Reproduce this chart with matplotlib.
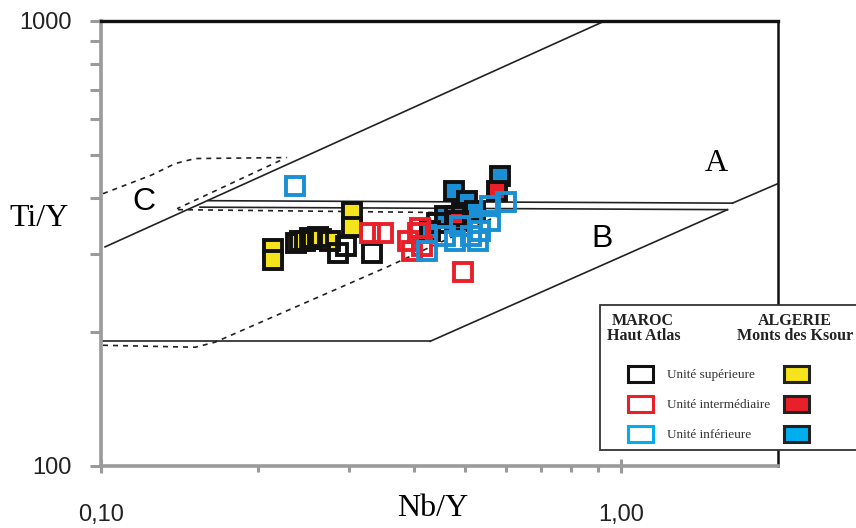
import numpy as np
import matplotlib.pyplot as plt
from matplotlib.patches import Rectangle

# Algerie (Monts des Ksour), filled squares
alg_sup_x = [0.214, 0.214, 0.237, 0.247, 0.256, 0.265, 0.275, 0.303, 0.303]
alg_sup_y = [307, 290, 316, 320, 324, 324, 320, 372, 345]
alg_int_x = [0.578, 0.486]
alg_int_y = [415, 355]
alg_inf_x = [0.477, 0.504, 0.585, 0.459, 0.495, 0.524, 0.429]
alg_inf_y = [415, 394, 449, 365, 370, 374, 337]

# Maroc (Haut Atlas), open squares
mar_sup_x = [0.241, 0.252, 0.261, 0.286, 0.296, 0.332, 0.443, 0.480]
mar_sup_y = [320, 325, 327, 301, 312, 301, 352, 365]
mar_int_x = [0.329, 0.349, 0.389, 0.407, 0.396, 0.414, 0.497, 0.411]
mar_int_y = [334, 334, 320, 334, 304, 312, 272, 343]
mar_inf_x = [0.236, 0.424, 0.459, 0.490, 0.513, 0.536, 0.560, 0.601, 0.531, 0.480, 0.560]
mar_inf_y = [426, 304, 329, 346, 329, 337, 355, 392, 320, 320, 384]

# field boundaries (Nb/Y, Ti/Y)
solid_lines = [
    ([0.1018, 0.9193], [310.5, 993]),
    ([0.1606, 1.635], [394.3, 389.3]),
    ([0.1550, 1.599], [381.3, 376.4]),
    ([1.635, 2.0], [389.3, 430.7]),
    ([1.599, 0.4293], [376.4, 190.6]),
    ([0.1009, 0.4293], [190.6, 190.6]),
]
dashed_lines = [
    ([0.1009, 0.1250, 0.1388, 0.1517, 0.2279], [408.9, 450, 477.7, 490.3, 492.8]),
    ([0.2209, 0.1400], [485.2, 378.3]),
    ([0.1406, 0.585], [376.4, 369.6]),
    ([0.1009, 0.1517, 0.1657, 0.3548, 0.585], [186.7, 184.8, 189.7, 279.9, 366.7]),
]

YELLOW = '#f5e31c'
RED = '#e8202a'
BLUE = '#1a8fd3'
CYAN = '#00aeef'

fig = plt.figure(figsize=(8.56, 5.28), dpi=100)
ax = fig.add_axes([101/856, 1 - 466/528, 677/856, 445.3/528])
ax.set_xscale('log')
ax.set_yscale('log')
ax.set_xlim(0.1, 2.0)
ax.set_ylim(100, 1000)

for xs, ys in solid_lines:
    ax.plot(xs, ys, color='#222222', lw=1.2, zorder=2)
for xs, ys in dashed_lines:
    ax.plot(xs, ys, color='#222222', lw=1.2, ls=(0, (3, 3)), zorder=2)

ms, mew = 13.5, 2.8
ax.plot(alg_sup_x, alg_sup_y, 's', ms=ms, mfc=YELLOW, mec='#111111', mew=mew, zorder=3)
ax.plot(alg_inf_x, alg_inf_y, 's', ms=ms, mfc=BLUE, mec='#111111', mew=mew, zorder=3)
ax.plot(alg_int_x, alg_int_y, 's', ms=ms, mfc=RED, mec='#111111', mew=mew, zorder=3)
ax.plot(mar_sup_x, mar_sup_y, 's', ms=ms, mfc='none', mec='#111111', mew=mew, zorder=4)
ax.plot(mar_int_x, mar_int_y, 's', ms=ms, mfc='none', mec=RED, mew=mew, zorder=4)
ax.plot(mar_inf_x, mar_inf_y, 's', ms=ms, mfc='none', mec=BLUE, mew=mew, zorder=4)

ax.text(1.52, 478, 'A', fontsize=23, family='Liberation Serif', ha='center', va='center')
ax.text(0.92, 323, 'B', fontsize=23, family='Liberation Sans', ha='center', va='center')
ax.text(0.1207, 392, 'C', fontsize=23, family='Liberation Sans', ha='center', va='center')

# axes frame
ax.spines['left'].set_color('#9a9a9a')
ax.spines['bottom'].set_color('#9a9a9a')
ax.spines['left'].set_linewidth(2.6)
ax.spines['bottom'].set_linewidth(2.6)
ax.spines['top'].set_color('#111111')
ax.spines['right'].set_color('#111111')
ax.spines['top'].set_linewidth(2.4)
ax.spines['right'].set_linewidth(1.8)

ax.set_xticks([0.1, 1.0], labels=['0,10', '1,00'])
ax.set_xticks([0.2, 0.3, 0.4, 0.5, 0.6, 0.7, 0.8, 0.9], minor=True)
ax.set_xticklabels([], minor=True)
ax.set_yticks([100, 1000], labels=['100', '1000'])
ax.set_yticks([200, 300, 400, 500, 600, 700, 800, 900], minor=True)
ax.set_yticklabels([], minor=True)
ax.tick_params(axis='y', which='both', direction='out', length=8, width=2.2,
               color='#9a9a9a', labelsize=17, pad=13)
ax.tick_params(axis='x', which='minor', direction='out', length=4, width=2.2, color='#9a9a9a')
ax.tick_params(axis='x', which='major', direction='inout', length=10, width=2.2,
               color='#9a9a9a', labelsize=17, pad=22)
for lab in ax.get_xticklabels() + ax.get_yticklabels():
    lab.set_family('Liberation Sans')
    lab.set_color('#222222')

fig.text(39/856, 1 - 219/528, 'Ti/Y', fontsize=23, family='Liberation Serif',
         ha='center', va='center')
fig.text(433/856, 1 - 508/528, 'Nb/Y', fontsize=23, family='Liberation Serif',
         ha='center', va='center')

# legend box
def fx(px):
    return px / 856

def fy(py):
    return 1 - py / 528

fig.patches.append(Rectangle((fx(600), fy(450)), fx(270), 145/528, transform=fig.transFigure,
                             facecolor='white', edgecolor='#333333', lw=1.3, zorder=10))
hdr = dict(fontsize=11.5, family='Liberation Serif', fontweight='bold',
           va='center', zorder=11, color='#222222')
fig.text(fx(643), fy(321), 'MAROC', ha='center', **hdr)
fig.text(fx(644), fy(336), 'Haut Atlas', ha='center', **hdr)
fig.text(fx(795), fy(321), 'ALGERIE', ha='center', **hdr)
fig.text(fx(853), fy(336), 'Monts des Ksour', ha='right', **hdr)

entries = [('Unité supérieure', '#111111', YELLOW),
           ('Unité intermédiaire', RED, RED),
           ('Unité inférieure', CYAN, CYAN)]
for i, (name, ec, fc) in enumerate(entries):
    yc = 374 + 30 * i
    fig.patches.append(Rectangle((fx(628), fy(yc + 8)), 25/856, 16/528, transform=fig.transFigure,
                                 facecolor='white', edgecolor=ec, lw=2.2, zorder=11))
    fig.patches.append(Rectangle((fx(784), fy(yc + 8)), 25/856, 16/528, transform=fig.transFigure,
                                 facecolor=fc, edgecolor='#222222', lw=2.2, zorder=11))
    fig.text(fx(667), fy(yc + 1), name, fontsize=9.5, family='Liberation Serif',
             ha='left', va='center', zorder=11, color='#333333')

fig.savefig('out.png', dpi=100)
